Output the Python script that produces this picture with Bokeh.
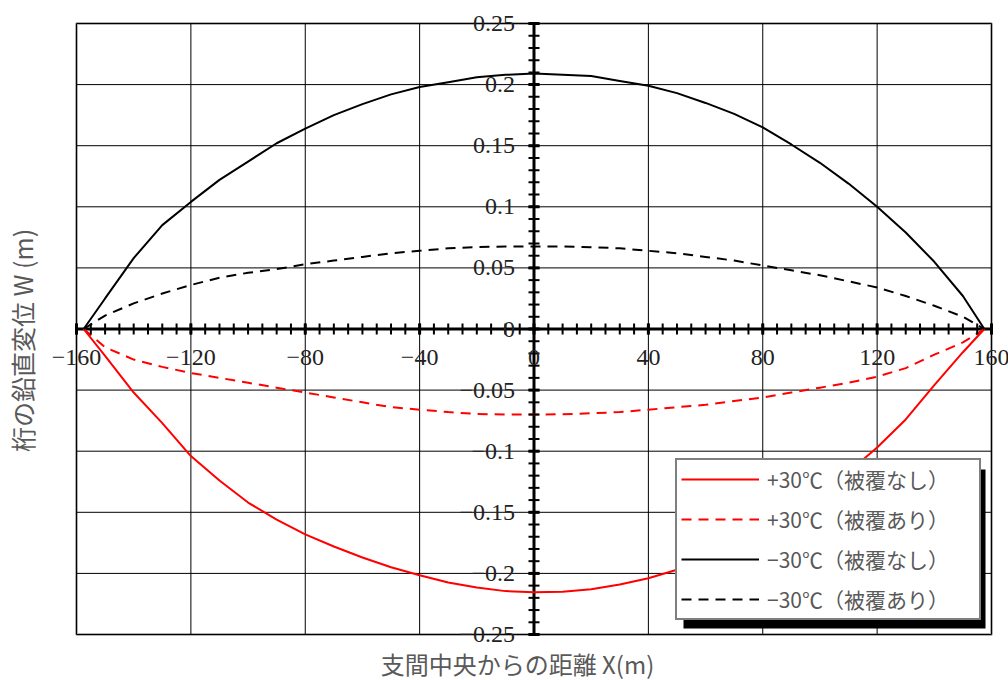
import numpy as np
from bokeh.plotting import figure
from bokeh.models import (Range1d, Legend, LegendItem, BoxAnnotation, Label, LabelSet,
                          ColumnDataSource)
from bokeh.core.properties import value
from bokeh.embed import file_html
from bokeh.resources import INLINE

# ---------------- data ----------------
x_pos = [-157.5, -150, -140, -130, -120, -110, -100, -90, -80, -70, -60, -50, -40, -30, -20, -10,
         0, 10, 20, 30, 40, 50, 60, 70, 80, 90, 100, 110, 120, 130, 140, 150, 157.5]

w_plus_bare = [0, -0.022, -0.052, -0.077, -0.104, -0.124, -0.142, -0.156, -0.168, -0.178, -0.187,
               -0.195, -0.2015, -0.2075, -0.2115, -0.2145, -0.2155, -0.215, -0.213, -0.209, -0.204,
               -0.197, -0.189, -0.179, -0.167, -0.153, -0.136, -0.117, -0.097, -0.074, -0.046,
               -0.019, 0]
w_plus_coat = [0, -0.015, -0.025, -0.031, -0.036, -0.040, -0.044, -0.048, -0.052, -0.056, -0.060,
               -0.064, -0.066, -0.068, -0.0695, -0.070, -0.070, -0.0698, -0.069, -0.068, -0.066,
               -0.064, -0.062, -0.059, -0.056, -0.052, -0.048, -0.044, -0.039, -0.032, -0.021,
               -0.011, 0]
w_minus_bare = [0, 0.025, 0.058, 0.085, 0.104, 0.122, 0.137, 0.152, 0.164, 0.175, 0.184, 0.192,
                0.198, 0.202, 0.206, 0.208, 0.209, 0.208, 0.207, 0.203, 0.199, 0.193, 0.185,
                0.176, 0.165, 0.151, 0.136, 0.119, 0.100, 0.079, 0.055, 0.027, 0]
w_minus_coat = [0, 0.011, 0.021, 0.029, 0.036, 0.042, 0.046, 0.049, 0.053, 0.056, 0.059, 0.062,
                0.064, 0.066, 0.067, 0.0675, 0.0675, 0.0675, 0.067, 0.066, 0.064, 0.062, 0.059,
                0.056, 0.052, 0.048, 0.044, 0.039, 0.034, 0.027, 0.019, 0.010, 0]

series_labels = ["+30℃（被覆なし）", "+30℃（被覆あり）", "−30℃（被覆なし）", "−30℃（被覆あり）"]

x_major = [-160, -120, -80, -40, 0, 40, 80, 120, 160]
x_major_labels = ["−160", "−120", "−80", "−40", "0", "40", "80", "120", "160"]
x_minor = list(range(-160, 161, 5))
y_major = [0.25, 0.2, 0.15, 0.1, 0.05, 0, -0.05, -0.1, -0.15, -0.2, -0.25]
y_major_labels = ["0.25", "0.2", "0.15", "0.1", "0.05", "0", "−0.05", "−0.1", "−0.15", "−0.2", "−0.25"]
y_minor = [round(v * 0.01, 2) for v in range(-25, 26)]

x_title = "支間中央からの距離 X(m)"
y_title = "桁の鉛直変位 W (m)"

# ---------------- geometry (pixels of the page) ----------------
W, H = 1008, 680
BOX_L, BOX_R, BOX_T, BOX_B = 76, 991, 23, 634
XMIN, XMAX, YMIN, YMAX = x_major[0], x_major[-1], y_major[-1], y_major[0]

def px2x(px):
    return XMIN + (px - BOX_L) * (XMAX - XMIN) / (BOX_R - BOX_L)

def py2y(py):
    return YMAX - (py - BOX_T) * (YMAX - YMIN) / (BOX_B - BOX_T)

p = figure(frame_width=W, frame_height=H,
           min_border_left=0, min_border_right=0, min_border_top=0, min_border_bottom=0,
           x_range=Range1d(px2x(0), px2x(W)), y_range=Range1d(py2y(H), py2y(0)),
           x_axis_location=None, y_axis_location=None,
           output_backend="svg", toolbar_location=None)
p.center = []
p.outline_line_color = None
p.background_fill_color = "white"
p.border_fill_color = "white"

# grid lines inside the box
p.segment(x0=x_major, y0=[YMIN] * len(x_major), x1=x_major, y1=[YMAX] * len(x_major),
          line_color="black", line_width=1)
p.segment(x0=[XMIN] * len(y_major), y0=y_major, x1=[XMAX] * len(y_major), y1=y_major,
          line_color="black", line_width=1)

# central axes
p.segment(x0=[XMIN], y0=[0], x1=[XMAX], y1=[0], line_color="black", line_width=3)
p.segment(x0=[0], y0=[YMIN], x1=[0], y1=[YMAX], line_color="black", line_width=3)

# curves
DASH = "10 7"
r1 = p.line(x_pos, w_plus_bare, line_color="red", line_width=2)
r2 = p.line(x_pos, w_plus_coat, line_color="red", line_width=2, line_dash=DASH)
r3 = p.line(x_pos, w_minus_bare, line_color="black", line_width=2)
r4 = p.line(x_pos, w_minus_coat, line_color="black", line_width=2, line_dash=DASH)

# tick marks
p.scatter(x_minor, [0] * len(x_minor), marker="dash", angle=np.pi / 2, size=11,
          line_color="black", line_width=2)
p.scatter(x_major, [0] * len(x_major), marker="dash", angle=np.pi / 2, size=11,
          line_color="black", line_width=3)
p.scatter([0] * len(y_minor), y_minor, marker="dash", size=11, line_color="black", line_width=2)
p.scatter([0] * len(y_major), y_major, marker="dash", size=11, line_color="black", line_width=3)

# plot box border
p.add_layout(BoxAnnotation(left=XMIN, right=XMAX, bottom=YMIN, top=YMAX,
                           fill_alpha=0, line_color="black", line_width=3))

# tick labels
NUM_FONT = value("Liberation Serif")
xs = ColumnDataSource(dict(x=x_major, y=[0] * len(x_major), t=x_major_labels))
p.add_layout(LabelSet(x="x", y="y", text="t", source=xs, y_offset=-28,
                      text_align="center", text_baseline="middle",
                      text_font=NUM_FONT, text_font_size="24px", text_color="#222222"))
ys = ColumnDataSource(dict(x=[0] * len(y_major), y=y_major, t=y_major_labels))
p.add_layout(LabelSet(x="x", y="y", text="t", source=ys, x_offset=-19,
                      text_align="right", text_baseline="middle",
                      text_font=NUM_FONT, text_font_size="24px", text_color="#222222"))

# axis titles
JP = "Noto Sans CJK JP"
p.add_layout(Label(x=px2x(517), y=py2y(663), text=x_title,
                   text_align="center", text_baseline="middle",
                   text_font=JP, text_font_size="24px", text_color="#595959"))
p.add_layout(Label(x=px2x(21), y=py2y(340), text=y_title, angle=np.pi / 2,
                   text_align="center", text_baseline="middle",
                   text_font=JP, text_font_size="25px", text_color="#595959"))

# legend with drop shadow
LEG_L, LEG_B, LEG_T = 675, 620, 461
p.add_layout(BoxAnnotation(left=px2x(LEG_L + 8), right=px2x(985), top=py2y(LEG_T + 8),
                           bottom=py2y(LEG_B + 8),
                           fill_color="black", fill_alpha=1, line_alpha=0))

legend = Legend(items=[LegendItem(label=series_labels[0], renderers=[r1]),
                       LegendItem(label=series_labels[1], renderers=[r2]),
                       LegendItem(label=series_labels[2], renderers=[r3]),
                       LegendItem(label=series_labels[3], renderers=[r4])],
                location=(LEG_L, H - LEG_B), orientation="vertical",
                border_line_color="black", border_line_width=2,
                background_fill_color="white", background_fill_alpha=1,
                glyph_width=78, glyph_height=24, label_height=24, label_width=208,
                spacing=10, padding=4, margin=0, label_standoff=8,
                label_text_font=JP, label_text_font_size="21px", label_text_color="#595959")
p.add_layout(legend)

open("out.html", "w").write(file_html(p, INLINE))
